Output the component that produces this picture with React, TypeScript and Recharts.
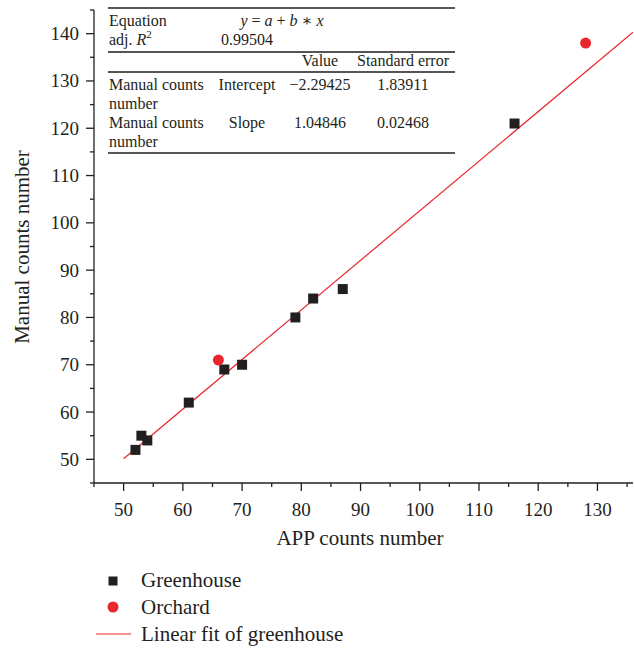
import React from 'react';
import { ScatterChart, Scatter, XAxis, YAxis } from 'recharts';

// values
const greenhouse = [
  { x: 52, y: 52 },
  { x: 53, y: 55 },
  { x: 54, y: 54 },
  { x: 61, y: 62 },
  { x: 67, y: 69 },
  { x: 70, y: 70 },
  { x: 79, y: 80 },
  { x: 82, y: 84 },
  { x: 87, y: 86 },
  { x: 116, y: 121 },
];
const orchard = [
  { x: 66, y: 71 },
  { x: 128, y: 138 },
];
// end points of the linear fit of greenhouse
const fitLine = [
  { x: 50, y: 50.13 },
  { x: 136, y: 140.3 },
];

const xTicks = [45, 50, 55, 60, 65, 70, 75, 80, 85, 90, 95, 100, 105, 110, 115, 120, 125, 130, 135];
const yTicks = [45, 50, 55, 60, 65, 70, 75, 80, 85, 90, 95, 100, 105, 110, 115, 120, 125, 130, 135, 140, 145];

const INK = '#231f20';
const RED = '#e8262c';
const FONT = '"Liberation Serif", "DejaVu Serif", serif';

const XTick = (props: any) => {
  const { x, y, payload } = props;
  const major = payload.value % 10 === 0;
  return (
    <g>
      <line x1={x} x2={x} y1={y} y2={y + (major ? 8 : 4)} stroke={INK} strokeWidth={1.3} />
      {major && (
        <text x={x} y={y + 33} textAnchor="middle" fontSize={19} fill={INK} fontFamily={FONT}>
          {payload.value}
        </text>
      )}
    </g>
  );
};

const YTick = (props: any) => {
  const { x, y, payload } = props;
  const major = payload.value % 10 === 0;
  return (
    <g>
      <line x1={x} x2={x - (major ? 8 : 4)} y1={y} y2={y} stroke={INK} strokeWidth={1.3} />
      {major && (
        <text x={x - 15} y={y + 6.5} textAnchor="end" fontSize={19} fill={INK} fontFamily={FONT}>
          {payload.value}
        </text>
      )}
    </g>
  );
};

const Square = (props: any) => (
  <rect x={props.cx - 5} y={props.cy - 5} width={10} height={10} fill={INK} />
);
const Dot = (props: any) => <circle cx={props.cx} cy={props.cy} r={5.5} fill={RED} />;
const NoMark = () => <g />;

const FitTable = () => {
  const t = { fontSize: 16, fill: INK, fontFamily: FONT };
  return (
    <g>
      <line x1={108} x2={455} y1={8} y2={8} stroke={INK} strokeWidth={1.4} />
      <text x={109} y={26} {...t}>Equation</text>
      <text x={282} y={26} textAnchor="middle" {...t}>
        <tspan fontStyle="italic">y</tspan> = <tspan fontStyle="italic">a</tspan> + <tspan fontStyle="italic">b</tspan> ∗ <tspan fontStyle="italic">x</tspan>
      </text>
      <text x={109} y={45} {...t}>
        adj. <tspan fontStyle="italic">R</tspan>
        <tspan fontSize={11} dy={-7}>2</tspan>
      </text>
      <text x={247} y={45} textAnchor="middle" {...t}>0.99504</text>
      <line x1={108} x2={455} y1={52} y2={52} stroke="#555" strokeWidth={2} />
      <text x={320} y={66} textAnchor="middle" {...t}>Value</text>
      <text x={403} y={66} textAnchor="middle" {...t}>Standard error</text>
      <line x1={108} x2={455} y1={72} y2={72} stroke="#555" strokeWidth={2} />
      <text x={109} y={90} {...t}>Manual counts</text>
      <text x={109} y={109} {...t}>number</text>
      <text x={247} y={90} textAnchor="middle" {...t}>Intercept</text>
      <text x={320} y={90} textAnchor="middle" {...t}>−2.29425</text>
      <text x={403} y={90} textAnchor="middle" {...t}>1.83911</text>
      <text x={109} y={128} {...t}>Manual counts</text>
      <text x={109} y={147} {...t}>number</text>
      <text x={247} y={128} textAnchor="middle" {...t}>Slope</text>
      <text x={320} y={128} textAnchor="middle" {...t}>1.04846</text>
      <text x={403} y={128} textAnchor="middle" {...t}>0.02468</text>
      <line x1={108} x2={455} y1={153} y2={153} stroke={INK} strokeWidth={1.4} />
    </g>
  );
};

const App = () => {
  const label = { fontSize: 21, fill: INK, fontFamily: FONT };
  const leg = { fontSize: 21, fill: INK, fontFamily: FONT };
  return (
    <div style={{ position: 'absolute', left: 0, top: 0, width: 634, height: 650, background: '#fff', fontFamily: FONT }}>
      <ScatterChart width={634} height={560} margin={{ top: 10, right: 1, bottom: 0, left: 0 }}>
        <XAxis
          type="number"
          dataKey="x"
          domain={[45, 136]}
          ticks={xTicks}
          interval={0}
          allowDataOverflow
          height={77}
          tickSize={0}
          tickMargin={0}
          tick={<XTick />}
          axisLine={{ stroke: INK, strokeWidth: 1.3 }}
        />
        <YAxis
          type="number"
          dataKey="y"
          domain={[45, 145]}
          ticks={yTicks}
          interval={0}
          allowDataOverflow
          width={94}
          tickSize={0}
          tickMargin={0}
          tick={<YTick />}
          axisLine={{ stroke: INK, strokeWidth: 1.3 }}
        />
        <Scatter data={fitLine} line={{ stroke: RED, strokeWidth: 1.2 }} shape={NoMark} isAnimationActive={false} />
        <Scatter data={greenhouse} shape={Square} isAnimationActive={false} />
        <Scatter data={orchard} shape={Dot} isAnimationActive={false} />
      </ScatterChart>
      <svg width={634} height={650} style={{ position: 'absolute', left: 0, top: 0, pointerEvents: 'none' }}>
        <FitTable />
        <text x={360} y={545} textAnchor="middle" {...label}>APP counts number</text>
        <text transform="translate(29,247) rotate(-90)" textAnchor="middle" {...label}>Manual counts number</text>
        <rect x={108.5} y={576.5} width={9} height={9} fill={INK} />
        <text x={141} y={587} {...leg}>Greenhouse</text>
        <circle cx={113} cy={607} r={5.5} fill={RED} />
        <text x={141} y={614} {...leg}>Orchard</text>
        <line x1={96} x2={131} y1={634} y2={634} stroke={RED} strokeWidth={1.2} />
        <text x={141} y={641} {...leg}>Linear fit of greenhouse</text>
      </svg>
    </div>
  );
};

export default App;
